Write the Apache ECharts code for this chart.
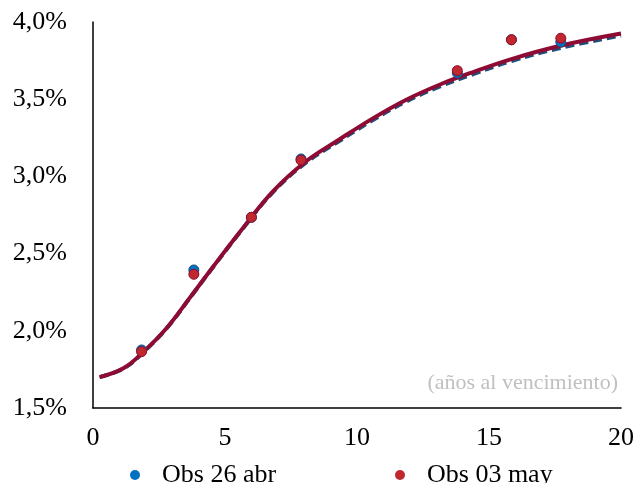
<!DOCTYPE html>
<html>
<head>
<meta charset="utf-8">
<script src="https://cdn.jsdelivr.net/npm/echarts@6/dist/echarts.min.js"></script>
<style>
  html, body { margin: 0; padding: 0; background: #fff; }
  #chart { width: 637px; height: 483px; }
</style>
</head>
<body>
<div id="chart"></div>
<script>
// observed yields (years to maturity, %)
const obsX = [1.84, 3.82, 6.0, 7.88, 13.8, 15.85, 17.72];
const obs26abr = [1.876, 2.394, 2.735, 3.113, 3.67, 3.885, 3.87];
const obs03may = [1.865, 2.366, 2.735, 3.105, 3.685, 3.885, 3.895];

// fitted curves
const curveX = [0.25, 1.15, 1.9, 2.8, 3.65, 4.55, 5.6, 6.8, 8.05, 9.3, 10.6, 11.85, 13.1, 14.4, 15.85, 17.7, 20];
const fit26abr = [1.70, 1.755, 1.860, 2.018, 2.208, 2.413, 2.645, 2.895, 3.087, 3.226, 3.365, 3.484, 3.580, 3.662, 3.747, 3.832, 3.912];
const fit03may = [1.70, 1.757, 1.862, 2.020, 2.210, 2.415, 2.648, 2.900, 3.095, 3.236, 3.376, 3.495, 3.592, 3.676, 3.760, 3.846, 3.925];

const yTicks = [1.5, 2.0, 2.5, 3.0, 3.5, 4.0];

const pair = (xs, ys) => xs.map((x, i) => [x, ys[i]]);
const font = "'Liberation Serif', 'DejaVu Serif', serif";

const legendBase = {
  top: 457,
  itemWidth: 10,
  itemHeight: 10,
  icon: "circle",
  itemStyle: { borderWidth: 0 },
  textStyle: { fontFamily: font, fontSize: 26, color: "#000", padding: [0, 0, 0, 17] }
};

const chart = echarts.init(document.getElementById("chart"));
chart.setOption({
  animation: false,
  textStyle: { fontFamily: font },
  grid: { left: 93, right: 16, top: 22, bottom: 75, containLabel: false },
  legend: [
    Object.assign({}, legendBase, { left: 125, data: ["Obs 26 abr"] }),
    Object.assign({}, legendBase, { left: 390, data: ["Obs 03 may"] })
  ],
  xAxis: {
    type: "value",
    min: 0,
    max: 20,
    interval: 5,
    axisLine: { show: true, onZero: false, lineStyle: { color: "#000", width: 1.5 } },
    axisTick: { show: false },
    splitLine: { show: false },
    axisLabel: { color: "#000", fontSize: 26, fontFamily: font, margin: 17 }
  },
  yAxis: {
    type: "value",
    min: yTicks[0],
    max: yTicks[yTicks.length - 1],
    interval: 0.5,
    axisLine: { show: true, lineStyle: { color: "#000", width: 1.5 } },
    axisTick: { show: false },
    splitLine: { show: false },
    axisLabel: {
      color: "#000",
      fontSize: 26,
      fontFamily: font,
      margin: 26,
      formatter: v => v.toFixed(1).replace(".", ",") + "%"
    }
  },
  graphic: [
    {
      type: "text",
      right: 19,
      top: 372,
      style: {
        text: "(años al vencimiento)",
        fill: "#c0c0c0",
        font: "22px " + font
      }
    }
  ],
  series: [
    {
      name: "Curva 26 abr",
      type: "line",
      data: pair(curveX, fit26abr),
      smooth: 0.4,
      showSymbol: false,
      lineStyle: { color: "#1f4e79", width: 4, type: [9, 5] },
      z: 2
    },
    {
      name: "Curva 03 may",
      type: "line",
      data: pair(curveX, fit03may),
      smooth: 0.4,
      showSymbol: false,
      lineStyle: { color: "#8e0b33", width: 4 },
      z: 3
    },
    {
      name: "Obs 26 abr",
      type: "scatter",
      data: pair(obsX, obs26abr),
      symbolSize: 10,
      itemStyle: { color: "#0070c0", borderColor: "#1f4e79", borderWidth: 1, opacity: 1 },
      z: 4
    },
    {
      name: "Obs 03 may",
      type: "scatter",
      data: pair(obsX, obs03may),
      symbolSize: 10,
      itemStyle: { color: "#c0282d", borderColor: "#8e0b33", borderWidth: 1, opacity: 1 },
      z: 5
    }
  ]
});
</script>
</body>
</html>
